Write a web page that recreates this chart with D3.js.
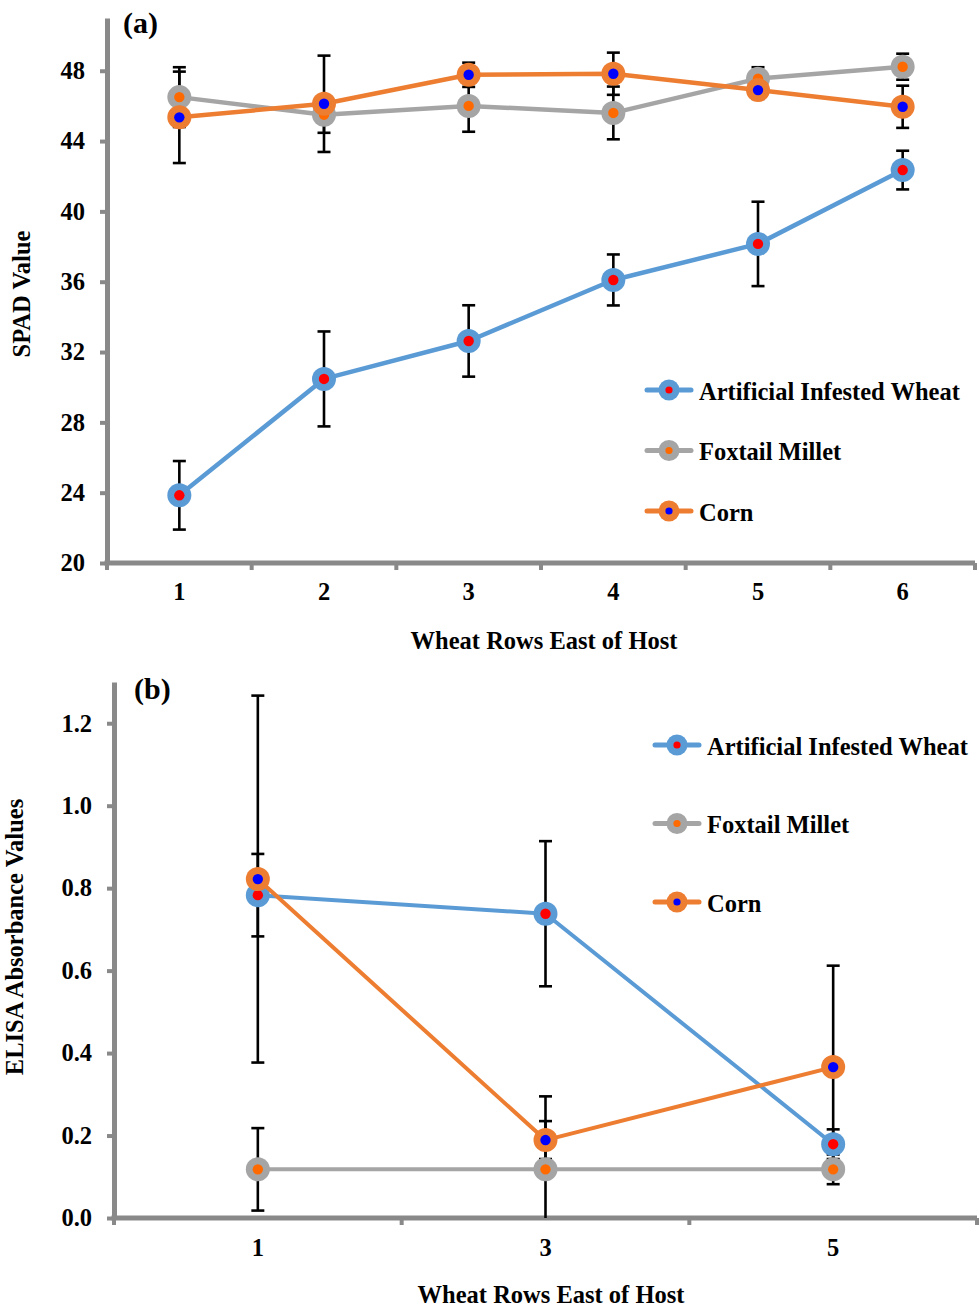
<!DOCTYPE html>
<html>
<head>
<meta charset="utf-8">
<script src="https://cdn.jsdelivr.net/npm/d3@7"></script>
<style>
  html, body { margin: 0; padding: 0; background: #fff; }
  svg { display: block; }
  text { font-family: "Liberation Serif", "Times New Roman", serif; font-weight: bold; fill: #000; }
</style>
</head>
<body>
<svg id="chart" width="979" height="1311"></svg>
<script>
// Panel (a): SPAD values by wheat row
const rowsA = ["1", "2", "3", "4", "5", "6"];
const wheatSpad = [23.85, 30.47, 32.63, 36.1, 38.15, 42.35];
const wheatSpadErr = [1.95, 2.7, 2.03, 1.45, 2.4, 1.1];
const milletSpad = [46.5, 45.5, 46.0, 45.6, 47.55, 48.23];
const milletSpadErr = [1.7, 1.03, 1.47, 1.5, 0.65, 0.74];
const cornSpad = [45.35, 46.12, 47.77, 47.83, 46.9, 45.95];
const cornSpadErr = [2.6, 2.74, 0.69, 1.2, 0.5, 1.2];
const ticksA = [20, 24, 28, 32, 36, 40, 44, 48];

// Panel (b): ELISA absorbance by wheat row
const rowsB = ["1", "3", "5"];
const wheatElisa = [0.783, 0.738, 0.179];
const wheatElisaErr = [0.1, 0.176, 0.036];
const milletElisa = [0.118, 0.118, 0.118];
const milletElisaErr = [0.1, 0.177, 0.036];
const cornElisa = [0.822, 0.189, 0.366];
const cornElisaErr = [0.445, 0.046, 0.246];
const ticksB = [0.0, 0.2, 0.4, 0.6, 0.8, 1.0, 1.2];

const seriesNames = ["Artificial Infested Wheat", "Foxtail Millet", "Corn"];
const lineColors = ["#5b9bd5", "#a5a5a5", "#ed7d31"];
const dotColors = ["#ff0000", "#ff6a00", "#0000ff"];

const svg = d3.select("#chart");
const AXIS = "#898989";
const FS = "24.5px";

function drawPanel(cfg) {
  const g = svg.append("g");
  const x = d3.scaleBand().domain(cfg.cats).range([cfg.left, cfg.right]).padding(0);
  const y = d3.scaleLinear().domain(cfg.yDomain).range([cfg.bottom, cfg.top]);
  const cx = c => x(c) + x.bandwidth() / 2;

  // y axis
  const yAx = g.append("g").attr("transform", `translate(${cfg.left},0)`)
    .call(d3.axisLeft(y).tickValues(cfg.ticks).tickSize(7).tickPadding(15)
      .tickSizeOuter(0).tickFormat(cfg.fmt));
  yAx.select(".domain").attr("stroke", AXIS).attr("stroke-width", 5);
  yAx.selectAll(".tick line").attr("stroke", AXIS).attr("stroke-width", 4);
  yAx.selectAll(".tick text").style("font-size", FS).attr("fill", "#000");

  // x axis labels
  const xAx = g.append("g").attr("transform", `translate(0,${cfg.bottom})`)
    .call(d3.axisBottom(x).tickSize(0).tickPadding(cfg.xPad));
  xAx.select(".domain").remove();
  xAx.selectAll(".tick text").style("font-size", FS).attr("fill", "#000");

  // x axis line with category boundary ticks
  const bounds = d3.range(cfg.cats.length + 1).map(i => cfg.left + i * x.bandwidth());
  g.append("g").selectAll("line").data(bounds).join("line")
    .attr("x1", d => d).attr("x2", d => d)
    .attr("y1", cfg.bottom).attr("y2", cfg.bottom + 7)
    .attr("stroke", AXIS).attr("stroke-width", 4);
  g.append("line")
    .attr("x1", cfg.left - 2.5).attr("x2", cfg.right)
    .attr("y1", cfg.bottom).attr("y2", cfg.bottom)
    .attr("stroke", AXIS).attr("stroke-width", 5);

  const ymin = cfg.yDomain[0];
  // error bars (clipped at the axis minimum)
  cfg.series.forEach(s => {
    s.values.forEach((v, i) => {
      const hi = v + s.err[i], lo = v - s.err[i];
      const loC = Math.max(lo, ymin);
      const xc = cx(cfg.cats[i]);
      g.append("line").attr("x1", xc).attr("x2", xc)
        .attr("y1", y(hi)).attr("y2", y(loC))
        .attr("stroke", "#000").attr("stroke-width", 2.6);
      const caps = [hi];
      if (lo >= ymin) caps.push(lo);
      caps.forEach(c => g.append("line")
        .attr("x1", xc - 6.5).attr("x2", xc + 6.5)
        .attr("y1", y(c)).attr("y2", y(c))
        .attr("stroke", "#000").attr("stroke-width", 2.6));
    });
  });

  // series lines and markers
  const line = d3.line().x((d, i) => cx(cfg.cats[i])).y(d => y(d));
  cfg.series.forEach((s, k) => {
    g.append("path").datum(s.values).attr("d", line)
      .attr("fill", "none").attr("stroke", lineColors[k])
      .attr("stroke-width", cfg.lineW).attr("stroke-linejoin", "round");
    s.values.forEach((v, i) => {
      g.append("circle").attr("cx", cx(cfg.cats[i])).attr("cy", y(v))
        .attr("r", 12).attr("fill", lineColors[k]);
      g.append("circle").attr("cx", cx(cfg.cats[i])).attr("cy", y(v))
        .attr("r", 5.2).attr("fill", dotColors[k]);
    });
  });

  // legend
  seriesNames.forEach((name, k) => {
    const ly = cfg.legY + k * cfg.legStep;
    const lg = g.append("g");
    lg.append("line").attr("x1", cfg.legX).attr("x2", cfg.legX + 44)
      .attr("y1", ly).attr("y2", ly)
      .attr("stroke", lineColors[k]).attr("stroke-width", 5).attr("stroke-linecap", "round");
    lg.append("circle").attr("cx", cfg.legX + 22).attr("cy", ly).attr("r", 10.5).attr("fill", lineColors[k]);
    lg.append("circle").attr("cx", cfg.legX + 22).attr("cy", ly).attr("r", 3.6).attr("fill", dotColors[k]);
    lg.append("text").attr("x", cfg.legX + 52).attr("y", ly + 9.5)
      .style("font-size", FS).text(name);
  });

  // titles
  g.append("text").attr("x", cfg.tagX).attr("y", cfg.tagY).style("font-size", "30px").text(cfg.tag);
  g.append("text").attr("x", cfg.xTitleX).attr("y", cfg.xTitleY)
    .attr("text-anchor", "middle").style("font-size", FS).text("Wheat Rows East of Host");
  g.append("text").attr("transform", `translate(${cfg.yTitleX},${cfg.yTitleY}) rotate(-90)`)
    .attr("text-anchor", "middle").style("font-size", FS).text(cfg.yTitle);
}

drawPanel({
  cats: rowsA, left: 107, right: 975, top: 18, bottom: 563, yDomain: [20, 51],
  ticks: ticksA, fmt: d3.format("d"), xPad: 20, lineW: 4.5,
  series: [
    { values: wheatSpad, err: wheatSpadErr },
    { values: milletSpad, err: milletSpadErr },
    { values: cornSpad, err: cornSpadErr }
  ],
  legX: 647, legY: 390, legStep: 60.5,
  tag: "(a)", tagX: 123, tagY: 33,
  xTitleX: 544, xTitleY: 649,
  yTitle: "SPAD Value", yTitleX: 30, yTitleY: 294
});

drawPanel({
  cats: rowsB, left: 114, right: 977, top: 682, bottom: 1218, yDomain: [0, 1.3],
  ticks: ticksB, fmt: d3.format(".1f"), xPad: 21, lineW: 4,
  series: [
    { values: wheatElisa, err: wheatElisaErr },
    { values: milletElisa, err: milletElisaErr },
    { values: cornElisa, err: cornElisaErr }
  ],
  legX: 655, legY: 745, legStep: 78.5,
  tag: "(b)", tagX: 134, tagY: 699,
  xTitleX: 551, xTitleY: 1303,
  yTitle: "ELISA Absorbance Values", yTitleX: 23, yTitleY: 937
});
</script>
</body>
</html>
